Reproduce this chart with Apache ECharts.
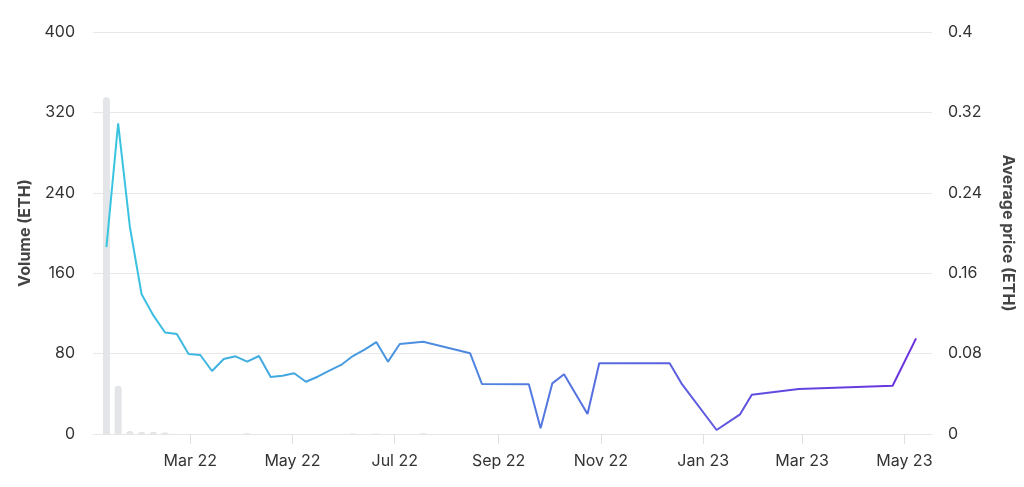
<!DOCTYPE html>
<html>
<head>
<meta charset="utf-8">
<script src="https://cdn.jsdelivr.net/npm/echarts@6/dist/echarts.min.js"></script>
<style>
html,body{margin:0;padding:0;background:#fff;}
#chart{width:1024px;height:487px;}
</style>
</head>
<body>
<div id="chart"></div>
<script>
// Weekly dates
const dates = [
  '2022-01-10','2022-01-17','2022-01-24','2022-01-31','2022-02-07','2022-02-14','2022-02-21','2022-02-28',
  '2022-03-07','2022-03-14','2022-03-21','2022-03-28','2022-04-04','2022-04-11','2022-04-18','2022-04-25',
  '2022-05-02','2022-05-09','2022-05-16','2022-05-23','2022-05-30','2022-06-06','2022-06-13','2022-06-20',
  '2022-06-27','2022-07-04','2022-07-18','2022-08-15','2022-08-22','2022-09-19','2022-09-26','2022-10-03',
  '2022-10-10','2022-10-24','2022-10-31','2022-12-12','2022-12-19','2023-01-09','2023-01-23','2023-01-30',
  '2023-02-27','2023-04-24','2023-05-08'
];
// Average price (ETH)
const avgPrice = [
  0.186,0.309,0.206,0.139,0.118,0.101,0.0995,0.0796,
  0.0786,0.0627,0.0746,0.0773,0.072,0.0776,0.0567,0.058,
  0.0604,0.052,0.057,0.063,0.0687,0.0776,0.084,0.0915,
  0.072,0.0896,0.0918,0.0803,0.0498,0.0494,0.0057,0.0504,
  0.0594,0.0199,0.0703,0.0703,0.0504,0.004,0.0196,0.0391,
  0.0448,0.048,0.0952
];
// Volume (ETH)
const volume = [
  335,48,3,2,2,1.5,0,0,
  0,0,0,0,0.8,0,0,0,
  0,0,0,0,0,0.6,0,0.6,
  0,0,0.8,0,0,0,0,0,
  0,0,0,0,0,0,0,0,
  0,0,0
];
const tickDates = ['2022-03-01','2022-05-01','2022-07-01','2022-09-01','2022-11-01','2023-01-01','2023-03-01','2023-05-01'];
const monthNames = ['Jan','Feb','Mar','Apr','May','Jun','Jul','Aug','Sep','Oct','Nov','Dec'];

const toTime = s => { const p = s.split('-'); return new Date(+p[0], +p[1]-1, +p[2]).getTime(); };
const tickValues = tickDates.map(toTime);

const chart = echarts.init(document.getElementById('chart'));
const font = 'Inter, "Noto Sans", sans-serif';
chart.setOption({
  animation: false,
  textStyle: { fontFamily: font },
  grid: { left: 93, right: 92, top: 32, bottom: 53, outerBoundsMode: 'none', containLabel: false },
  xAxis: {
    type: 'value',
    min: toTime('2022-01-02'),
    max: toTime('2023-05-17') + 12*3600*1000,
    axisLine: { show: true, lineStyle: { color: '#e6e6e6' } },
    axisTick: { show: true, length: 10, lineStyle: { color: '#e0e0e0' }, customValues: tickValues },
    axisLabel: {
      color: '#333', fontSize: 16, margin: 19, fontFamily: font,
      customValues: tickValues,
      formatter: v => { const d = new Date(v); return monthNames[d.getMonth()] + ' ' + String(d.getFullYear()).slice(2); }
    },
    splitLine: { show: false }
  },
  yAxis: [
    {
      type: 'value', min: 0, max: 400, interval: 80,
      name: 'Volume (ETH)', nameLocation: 'middle', nameGap: 58, nameRotate: 90,
      nameTextStyle: { color: '#444', fontSize: 16, fontWeight: 'bold', fontFamily: font },
      axisLine: { show: false }, axisTick: { show: false },
      axisLabel: { color: '#333', fontSize: 16, margin: 18, fontFamily: font },
      splitLine: { lineStyle: { color: '#e8e8e8' } }
    },
    {
      type: 'value', min: 0, max: 0.4, interval: 0.08,
      name: 'Average price (ETH)', nameLocation: 'middle', nameGap: 68, nameRotate: -90,
      nameTextStyle: { color: '#444', fontSize: 16, fontWeight: 'bold', fontFamily: font },
      axisLine: { show: false }, axisTick: { show: false },
      axisLabel: { color: '#333', fontSize: 16, margin: 16, fontFamily: font,
        formatter: v => String(+v.toFixed(2)) },
      splitLine: { show: false }
    }
  ],
  series: [
    {
      type: 'bar', yAxisIndex: 0, barWidth: 7,
      data: dates.map((d, i) => [toTime(d), volume[i]]),
      itemStyle: { color: '#e3e5e8', borderRadius: [4, 4, 0, 0] }
    },
    {
      type: 'line', yAxisIndex: 1, showSymbol: false, symbol: 'none',
      data: dates.map((d, i) => [toTime(d), avgPrice[i]]),
      lineStyle: {
        width: 2,
        color: new echarts.graphic.LinearGradient(0, 0, 1, 0, [
          { offset: 0, color: '#38c6e0' },
          { offset: 0.45, color: '#4f86e0' },
          { offset: 1, color: '#6a2fe0' }
        ])
      }
    }
  ]
});
</script>
</body>
</html>
